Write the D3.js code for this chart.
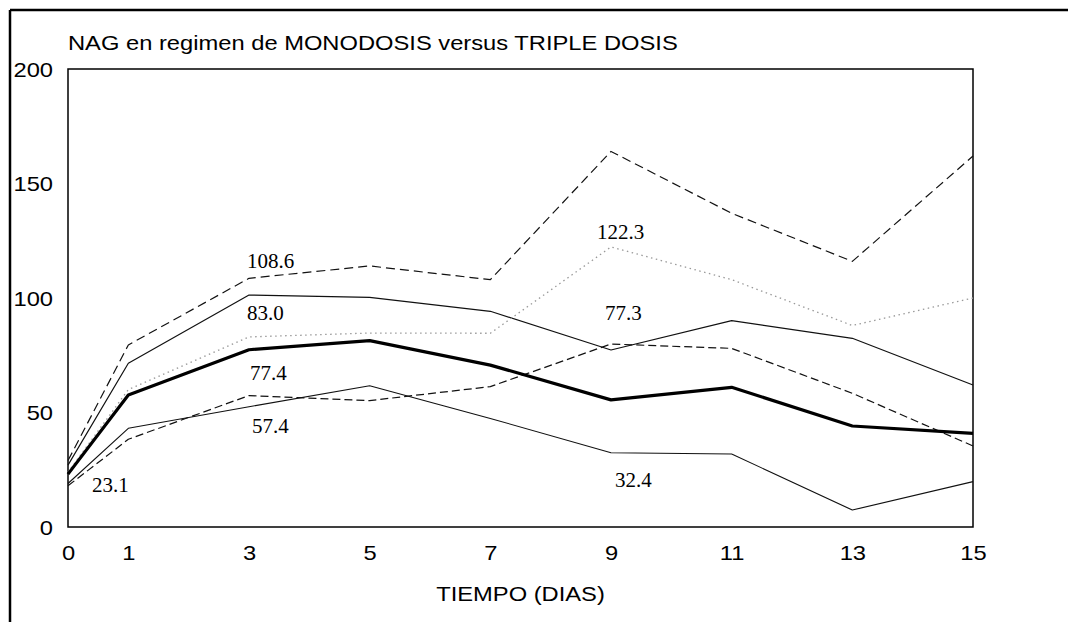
<!DOCTYPE html>
<html>
<head>
<meta charset="utf-8">
<script src="https://cdn.jsdelivr.net/npm/d3@7"></script>
<style>
  body { margin: 0; background: #fff; }
  .sans { font-family: "Liberation Sans", Arial, sans-serif; }
  .serif { font-family: "Liberation Serif", "Times New Roman", serif; }
</style>
</head>
<body>
<div id="chart"></div>
<script>
var svgWidth = 1068;
var svgHeight = 622;

var margin = {
  top: 69,
  right: 95,
  bottom: 95,
  left: 68
};

var width = svgWidth - margin.left - margin.right;
var height = svgHeight - margin.top - margin.bottom;

// data (days on x, NAG on y)
var days = [0, 1, 3, 5, 7, 9, 11, 13, 15];
var yTicks = [0, 50, 100, 150, 200];

var tripleUpper = [29, 79.5, 108.6, 114, 108, 164, 137, 116, 162];
var monoUpper = [27, 71.5, 101.3, 100.3, 94.2, 77.3, 90.1, 82.4, 62];
var tripleMean = [24, 60, 83.0, 84.7, 84.6, 122.3, 108, 88, 100];
var monoMean = [23.1, 57.6, 77.4, 81.4, 70.7, 55.5, 61, 44.1, 40.9];
var tripleLower = [18, 38.3, 57.4, 55.2, 61.3, 79.9, 78, 58.4, 35.4];
var monoLower = [19, 43.1, 52.5, 61.7, 47.4, 32.4, 31.9, 7.4, 19.8];

// value labels written on the plot
var labelTexts = ["23.1", "108.6", "83.0", "77.4", "57.4", "122.3", "77.3", "32.4"];
var labelDays = [0, 3, 3, 3, 3, 9, 9, 9];
var labelValues = [23.1, 108.6, 83.0, 77.4, 57.4, 122.3, 77.3, 32.4];

var titleText = "NAG en regimen de MONODOSIS versus TRIPLE DOSIS";
var xTitle = "TIEMPO (DIAS)";

var stretch = 1.13; // the scan is a bit wider than Arial

var svg = d3
  .select("#chart")
  .append("svg")
  .attr("width", svgWidth)
  .attr("height", svgHeight);

// outer page frame (top and left only)
svg.append("line")
  .attr("x1", 10).attr("y1", 10).attr("x2", svgWidth).attr("y2", 10)
  .attr("stroke", "#000").attr("stroke-width", 2.5);
svg.append("line")
  .attr("x1", 10).attr("y1", 10).attr("x2", 10).attr("y2", svgHeight)
  .attr("stroke", "#000").attr("stroke-width", 2.5);

var chartGroup = svg.append("g")
  .attr("transform", `translate(${margin.left}, ${margin.top})`);

var xScale = d3.scaleLinear().domain([0, 15]).range([0, width]);
var yScale = d3.scaleLinear().domain([0, 200]).range([height, 0]);

// plot box
chartGroup.append("rect")
  .attr("x", 0).attr("y", 0)
  .attr("width", width).attr("height", height)
  .attr("fill", "none")
  .attr("stroke", "#000")
  .attr("stroke-width", 1.5);

// y axis
var yAxis = chartGroup.append("g")
  .call(d3.axisLeft(yScale).tickValues(yTicks).tickSize(0).tickPadding(0));
yAxis.select(".domain").remove();
yAxis.selectAll("text")
  .attr("class", "sans")
  .attr("font-size", 21)
  .attr("fill", "#000")
  .attr("x", -15 / stretch)
  .attr("dy", "0.34em")
  .attr("transform", `scale(${stretch},1)`);

// x axis
var xAxis = chartGroup.append("g")
  .attr("transform", `translate(0, ${height})`)
  .call(d3.axisBottom(xScale).tickValues(days).tickSize(0).tickPadding(0));
xAxis.select(".domain").remove();
xAxis.selectAll("text")
  .attr("class", "sans")
  .attr("font-size", 21)
  .attr("fill", "#000")
  .attr("y", 18)
  .attr("dy", "0.71em")
  .attr("transform", `scale(${stretch},1)`);

// title and axis label
svg.append("text")
  .attr("class", "sans")
  .attr("font-size", 21)
  .attr("transform", `translate(${margin.left}, 50) scale(${stretch},1)`)
  .text(titleText);

svg.append("text")
  .attr("class", "sans")
  .attr("font-size", 21)
  .attr("text-anchor", "middle")
  .attr("transform", `translate(${margin.left + width / 2}, 601) scale(${stretch},1)`)
  .text(xTitle);

// series
var series = [
  { values: tripleUpper, stroke: "#111", width: 1.2, dash: "9,5" },
  { values: monoUpper, stroke: "#111", width: 1.2, dash: null },
  { values: tripleMean, stroke: "#999", width: 1.3, dash: "1.5,3.5" },
  { values: tripleLower, stroke: "#111", width: 1.2, dash: "8,4" },
  { values: monoLower, stroke: "#111", width: 1.1, dash: null },
  { values: monoMean, stroke: "#000", width: 3.2, dash: null }
];

var line = d3.line()
  .x((d, i) => xScale(days[i]))
  .y(d => yScale(d));

chartGroup.selectAll(".series")
  .data(series)
  .enter()
  .append("path")
  .attr("class", "series")
  .attr("d", d => line(d.values))
  .attr("fill", "none")
  .attr("stroke", d => d.stroke)
  .attr("stroke-width", d => d.width)
  .attr("stroke-dasharray", d => d.dash)
  .attr("stroke-linejoin", "round");

// label offsets from the point they belong to
var labelDx = [24, -2, -2, 1, 3, -14, -6, 4];
var labelDy = [18, -10, -17, 30, 37, -8, -30, 34];

chartGroup.selectAll(".valLabel")
  .data(labelTexts)
  .enter()
  .append("text")
  .attr("class", "valLabel serif")
  .attr("font-size", 21)
  .attr("x", (d, i) => xScale(labelDays[i]) + labelDx[i])
  .attr("y", (d, i) => yScale(labelValues[i]) + labelDy[i])
  .text(d => d);
</script>
</body>
</html>
